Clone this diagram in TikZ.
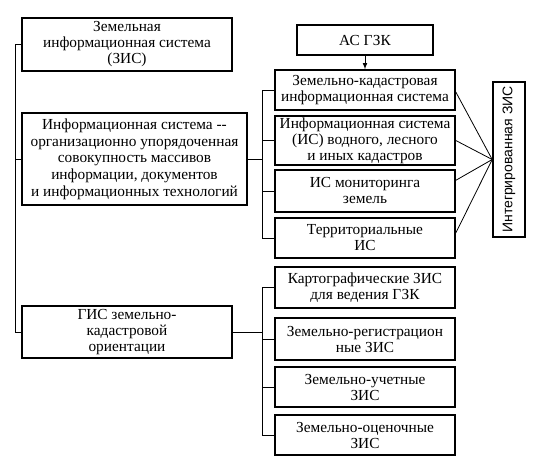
\documentclass[tikz,border=0pt]{standalone}
\usepackage{fontspec}
\setmainfont{Liberation Serif}
\newfontfamily\boxsans{Liberation Sans}
\usetikzlibrary{arrows}
\tikzset{plain box/.style={
    draw, line width=1.2pt, align=center, inner sep=1pt,
    font=\fontsize{11.5}{12}\selectfont}
}
\tikzset{link/.style={line width=0.6pt}}

\begin{document}
\begin{tikzpicture}[x=0.75pt, y=-0.75pt]
        \useasboundingbox (0,0) rectangle (540,463);
        %left column
        \node[plain box, minimum width=157.5pt, minimum height=39.75pt](zis) at (127,44.5)
            {Земельная\\информационная система\\(ЗИС)};
        \node[plain box, minimum width=168.75pt, minimum height=69pt, font=\fontsize{11.5}{12.5}\selectfont](infsys) at (134.5,159)
            {Информационная система {-}{-}\\организационно упорядоченная\\совокупность массивов\\информации, документов\\и информационных технологий};
        \node[plain box, minimum width=157.5pt, minimum height=39pt](gis) at (127,332)
            {ГИС земельно-\\кадастровой\\ориентации};

        %upper group
        \node[plain box, minimum width=102pt, minimum height=22.5pt](asgzk) at (365,40) {АС ГЗК};
        \node[plain box, minimum width=135pt, minimum height=30pt](zkis) at (365,90)
            {Земельно-кадастровая\\информационная система};
        \node[plain box, minimum width=135pt, minimum height=33.75pt](isvod) at (365,140.5)
            {Информационная система\\(ИС) водного, лесного\\и иных кадастров};
        \node[plain box, minimum width=135pt, minimum height=31.5pt](ismon) at (365,191)
            {ИС мониторинга\\земель};
        \node[plain box, minimum width=135pt, minimum height=30pt](terr) at (365,238)
            {Территориальные\\ИС};
        \node[plain box, minimum width=24pt, minimum height=116.25pt](integ) at (509,159.5) {};
        \node[rotate=90, font=\boxsans\fontsize{10.5}{12}\selectfont](integtext) at (integ.center) {Интегрированная ЗИС};

        %lower group
        \node[plain box, minimum width=135pt, minimum height=30.75pt](kart) at (365,287.5)
            {Картографические ЗИС\\для ведения ГЗК};
        \node[plain box, minimum width=135pt, minimum height=31.5pt](reg) at (365,339)
            {Земельно-регистрацион\\ные ЗИС};
        \node[plain box, minimum width=135pt, minimum height=30pt](uch) at (365,387)
            {Земельно-учетные\\ЗИС};
        \node[plain box, minimum width=135pt, minimum height=30pt](ots) at (365,435)
            {Земельно-оценочные\\ЗИС};

        %brackets
        \coordinate (bl) at (15,0);
        \coordinate (br) at (262,0);
        \draw[link] (zis.west) -- (zis.west -| bl) -- (gis.west -| bl) -- (gis.west);
        \draw[link] (infsys.west) -- (infsys.west -| bl);
        \draw[link] (infsys.east) -- (infsys.east -| br);
        \draw[link] (zkis.west) -- (zkis.west -| br) -- (terr.west -| br) -- (terr.west);
        \draw[link] (isvod.west) -- (isvod.west -| br);
        \draw[link] (ismon.west) -- (ismon.west -| br);
        \draw[link] (gis.east) -- (gis.east -| br);
        \draw[link] (kart.west) -- (kart.west -| br) -- (ots.west -| br) -- (ots.west);
        \draw[link] (reg.west) -- (reg.west -| br);
        \draw[link] (uch.west) -- (uch.west -| br);

        %arrow and fan
        \draw[link, -latex] (asgzk.south) -- (zkis.north);
        \draw[link] ([yshift=-1.5pt]zkis.east) -- (integ.west);
        \draw[link] (isvod.east) -- (integ.west);
        \draw[link] ([yshift=8pt]ismon.east) -- (integ.west);
        \draw[link] ([yshift=3.75pt]terr.east) -- (integ.west);
\end{tikzpicture}
\end{document}
